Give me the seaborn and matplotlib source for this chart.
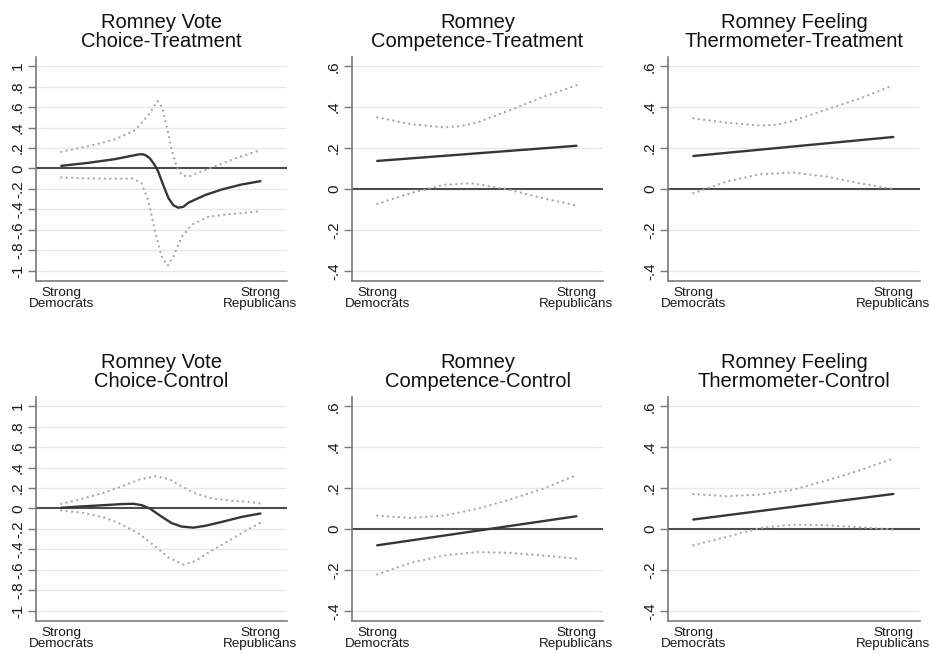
import matplotlib
matplotlib.use("Agg")
import matplotlib.pyplot as plt
import seaborn as sns

sns.set_theme(style="white")
plt.rcParams["font.family"] = ["Liberation Sans", "DejaVu Sans"]

# 7-point party identification scale on the x axis
PARTY_TICKS = [1, 7]
PARTY_LABELS = ["Strong\nDemocrats", "Strong\nRepublicans"]

TITLES = [
    "Romney Vote\nChoice-Treatment",
    "Romney\nCompetence-Treatment",
    "Romney Feeling\nThermometer-Treatment",
    "Romney Vote\nChoice-Control",
    "Romney\nCompetence-Control",
    "Romney Feeling\nThermometer-Control",
]

# Vote choice, treatment: marginal effect and 95% bounds
vc_t_est_x = [1.0, 1.81, 2.61, 3.12, 3.32, 3.44, 3.54, 3.67, 3.82, 3.92, 4.07, 4.23, 4.38, 4.53, 4.68, 4.83, 5.33, 5.84, 6.44, 7.0]
vc_t_est_y = [0.026, 0.055, 0.091, 0.124, 0.137, 0.14, 0.13, 0.10, 0.03, -0.03, -0.16, -0.29, -0.36, -0.384, -0.374, -0.335, -0.26, -0.205, -0.156, -0.124]
vc_t_hi_x = [1.0, 1.81, 2.61, 3.22, 3.62, 3.9, 4.04, 4.18, 4.33, 4.48, 4.63, 4.83, 5.13, 5.64, 6.24, 7.0]
vc_t_hi_y = [0.163, 0.218, 0.283, 0.374, 0.52, 0.66, 0.60, 0.41, 0.18, 0.016, -0.065, -0.08, -0.04, 0.023, 0.098, 0.18]
vc_t_lo_x = [1.0, 1.81, 2.61, 3.17, 3.42, 3.62, 3.82, 4.02, 4.21, 4.38, 4.63, 4.93, 5.44, 6.14, 6.95]
vc_t_lo_y = [-0.088, -0.098, -0.10, -0.098, -0.146, -0.31, -0.60, -0.86, -0.95, -0.86, -0.67, -0.55, -0.47, -0.445, -0.42]

# Competence, treatment
comp_t_est_x = [1, 7]
comp_t_est_y = [0.137, 0.211]
comp_t_hi_x = [1, 2, 3, 3.5, 4, 5, 6, 7]
comp_t_hi_y = [0.35, 0.317, 0.301, 0.307, 0.324, 0.385, 0.45, 0.507]
comp_t_lo_x = [1, 2, 3, 3.8, 4, 5, 6, 7]
comp_t_lo_y = [-0.073, -0.021, 0.02, 0.028, 0.024, -0.005, -0.046, -0.081]

# Feeling thermometer, treatment
ft_t_est_x = [1, 7]
ft_t_est_y = [0.161, 0.254]
ft_t_hi_x = [1, 2, 3, 3.5, 4, 5, 6, 7]
ft_t_hi_y = [0.345, 0.324, 0.31, 0.314, 0.333, 0.389, 0.442, 0.507]
ft_t_lo_x = [1, 2, 3, 4, 5, 6, 7]
ft_t_lo_y = [-0.021, 0.036, 0.072, 0.08, 0.06, 0.028, 0.0]

# Vote choice, control
vc_c_est_x = [1.0, 1.6, 2.31, 2.81, 3.17, 3.42, 3.67, 4.02, 4.33, 4.63, 4.98, 5.33, 5.84, 6.44, 7.0]
vc_c_est_y = [0.007, 0.02, 0.033, 0.043, 0.046, 0.033, 0.0, -0.079, -0.144, -0.177, -0.187, -0.17, -0.131, -0.082, -0.049]
vc_c_hi_x = [1.0, 1.6, 2.31, 2.81, 3.32, 3.82, 4.23, 4.63, 5.03, 5.54, 6.14, 6.65, 7.0]
vc_c_hi_y = [0.045, 0.092, 0.157, 0.216, 0.279, 0.315, 0.29, 0.216, 0.148, 0.098, 0.075, 0.066, 0.05]
vc_c_lo_x = [1.0, 1.6, 2.31, 2.81, 3.32, 3.82, 4.23, 4.68, 5.03, 5.54, 6.04, 6.54, 7.0]
vc_c_lo_y = [-0.02, -0.039, -0.089, -0.154, -0.243, -0.367, -0.48, -0.548, -0.515, -0.41, -0.318, -0.22, -0.14]

# Competence, control
comp_c_est_x = [1, 7]
comp_c_est_y = [-0.08, 0.062]
comp_c_hi_x = [1, 2, 3, 4, 5, 6, 7]
comp_c_hi_y = [0.065, 0.054, 0.065, 0.098, 0.144, 0.197, 0.263]
comp_c_lo_x = [1, 2, 3, 4, 5, 6, 7]
comp_c_lo_y = [-0.223, -0.166, -0.13, -0.113, -0.117, -0.13, -0.145]

# Feeling thermometer, control
ft_c_est_x = [1, 7]
ft_c_est_y = [0.046, 0.171]
ft_c_hi_x = [1, 2, 3, 4, 5, 6, 7]
ft_c_hi_y = [0.17, 0.16, 0.168, 0.192, 0.237, 0.287, 0.344]
ft_c_lo_x = [1, 2, 3, 4, 5, 6, 7]
ft_c_lo_y = [-0.08, -0.039, 0.005, 0.021, 0.018, 0.008, -0.003]

# y scales
VOTE_TICKS = [-1, -0.8, -0.6, -0.4, -0.2, 0, 0.2, 0.4, 0.6, 0.8, 1]
VOTE_LABELS = ["-1", "-.8", "-.6", "-.4", "-.2", "0", ".2", ".4", ".6", ".8", "1"]
SMALL_TICKS = [-0.4, -0.2, 0, 0.2, 0.4, 0.6]
SMALL_LABELS = ["-.4", "-.2", "0", ".2", ".4", ".6"]

GRID = "#e2ebeb"
ZERO = "#4d4d4d"
EST = "#363636"
CI = "#a6a6a6"
SPINE = "#7a7a7a"

panels = [
    (TITLES[0], (vc_t_est_x, vc_t_est_y), (vc_t_hi_x, vc_t_hi_y), (vc_t_lo_x, vc_t_lo_y), "vote"),
    (TITLES[1], (comp_t_est_x, comp_t_est_y), (comp_t_hi_x, comp_t_hi_y), (comp_t_lo_x, comp_t_lo_y), "small"),
    (TITLES[2], (ft_t_est_x, ft_t_est_y), (ft_t_hi_x, ft_t_hi_y), (ft_t_lo_x, ft_t_lo_y), "small"),
    (TITLES[3], (vc_c_est_x, vc_c_est_y), (vc_c_hi_x, vc_c_hi_y), (vc_c_lo_x, vc_c_lo_y), "vote"),
    (TITLES[4], (comp_c_est_x, comp_c_est_y), (comp_c_hi_x, comp_c_hi_y), (comp_c_lo_x, comp_c_lo_y), "small"),
    (TITLES[5], (ft_c_est_x, ft_c_est_y), (ft_c_hi_x, ft_c_hi_y), (ft_c_lo_x, ft_c_lo_y), "small"),
]

W, H = 930, 654
fig = plt.figure(figsize=(W / 100, H / 100), dpi=100)
fig.patch.set_facecolor("white")
cols = [(36, 287), (352, 603), (668, 920)]
rows = [(57, 281), (397, 621)]


def draw(ax, title, est, hi, lo, kind):
    if kind == "vote":
        ticks, labels, ylim = VOTE_TICKS, VOTE_LABELS, (-1.1, 1.09)
    else:
        ticks, labels, ylim = SMALL_TICKS, SMALL_LABELS, (-0.45, 0.645)

    for t in ticks:
        if t != 0:
            ax.axhline(t, color=GRID, lw=1.0, zorder=0)
    ax.axhline(0, color=ZERO, lw=1.5, zorder=1)

    # confidence bounds as round dots
    for xs, ys in (hi, lo):
        line = sns.lineplot(x=xs, y=ys, ax=ax, color=CI, lw=1.7, zorder=2).lines[-1]
        line.set_dashes((0.01, 2.3))
        line.set_dash_capstyle("round")
    sns.lineplot(x=est[0], y=est[1], ax=ax, color=EST, lw=1.7, zorder=3)

    ax.set_xlim(0.24, 7.8)
    ax.set_ylim(*ylim)
    ax.set_xticks(PARTY_TICKS)
    ax.set_xticklabels(PARTY_LABELS, fontsize=9.7, linespacing=0.95, color="#1a1a1a")
    ax.set_yticks(ticks)
    ax.set_yticklabels(labels, fontsize=11, color="#1a1a1a")
    for lab in ax.get_yticklabels():
        lab.set_rotation(90)
        lab.set_va("center")
    ax.set_xlabel("")
    ax.set_ylabel("")
    ax.tick_params(axis="x", length=0, pad=4)
    ax.tick_params(axis="y", length=5.5, width=1.0, color=SPINE, pad=2.5, left=True)
    ax.grid(False)
    for side in ("top", "right"):
        ax.spines[side].set_visible(False)
    for side in ("left", "bottom"):
        ax.spines[side].set_color(SPINE)
        ax.spines[side].set_linewidth(1.2)
    ax.set_title(title, fontsize=14.5, linespacing=1.0, pad=7, color="#111111")


for i, (title, est, hi, lo, kind) in enumerate(panels):
    r, c = divmod(i, 3)
    x0, x1 = cols[c]
    y0, y1 = rows[r]
    ax = fig.add_axes([x0 / W, 1 - y1 / H, (x1 - x0) / W, (y1 - y0) / H])
    ax.set_facecolor("white")
    draw(ax, title, est, hi, lo, kind)

fig.savefig("out.png", dpi=100, facecolor="white")
